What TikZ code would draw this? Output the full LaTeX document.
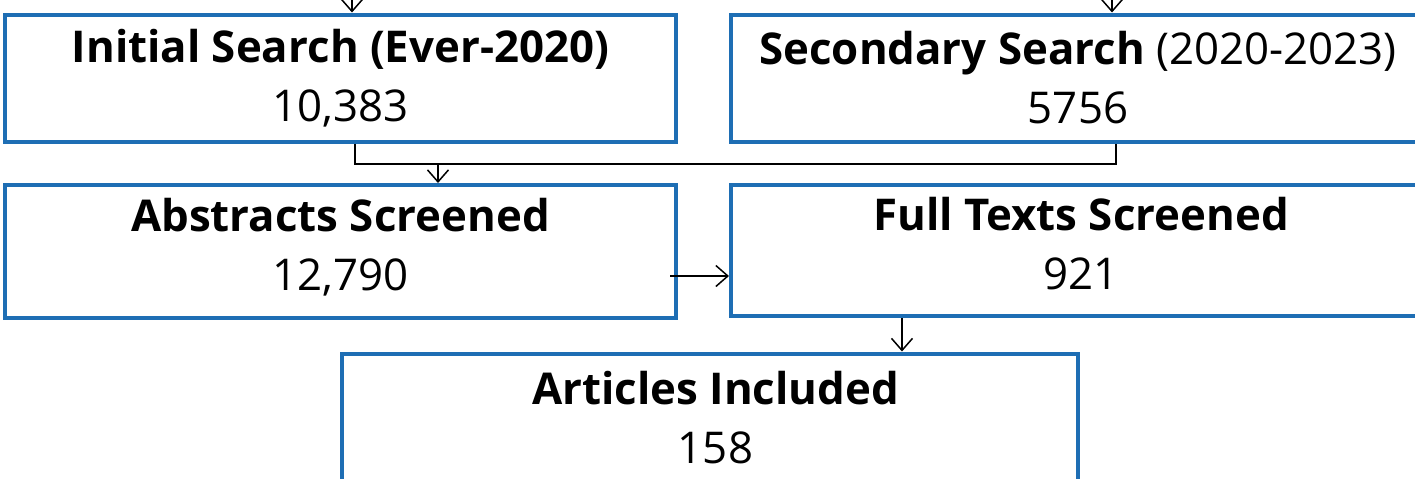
\documentclass[tikz,border=0pt]{standalone}
\usepackage{fontspec}
\setmainfont{Open Sans}
\usetikzlibrary{arrows.meta}
\definecolor{boxblue}{RGB}{30,110,180}
\begin{document}
\begin{tikzpicture}[x=0.5pt,y=-0.5pt,
  box/.style={draw=boxblue,line width=2pt,inner sep=0pt,align=center,font=\fontsize{21.9}{29.5}\selectfont},
  conn/.style={line width=0.75pt,draw=black},
  arr/.style={conn,-{Straight Barb[length=6pt,width=10.5pt]}}]
\useasboundingbox (0,0) rectangle (1415,478);
\clip (0,0) rectangle (1415,478);
\node[box,minimum width=335.5pt,minimum height=63.5pt] (b1) at (340.5,78) {\textbf{Initial Search (Ever-2020)}\\10,383};
\node[box,minimum width=347pt,minimum height=63.5pt] (b2) at (1078,78) {\textbf{Secondary Search} (2020-2023)\\5756};
\node[box,minimum width=335.5pt,minimum height=66.5pt,text depth=7pt] (b3) at (340.5,251.5) {\textbf{Abstracts Screened}\\12,790};
\node[box,minimum width=350pt,minimum height=65.5pt,text depth=7pt] (b4) at (1081,250.5) {\textbf{Full Texts Screened}\\921};
\node[box,minimum width=368pt,minimum height=64pt] (b5) at (709.5,417.5) {\hspace*{6pt}\textbf{Articles Included}\\\hspace*{6pt}158};
\coordinate (t1) at (352,-10);
\coordinate (t2) at (1112,-10);
\draw[arr] (t1) -- (t1 |- b1.north);
\draw[arr] (t2) -- (t2 |- b2.north);
\coordinate (m1) at (355,164);
\coordinate (m2) at (1116,164);
\coordinate (m3) at (438,164);
\draw[conn] (m1 |- b1.south) -- (m1) -- (m2) -- (m2 |- b2.south);
\draw[arr] (m3) -- (m3 |- b3.north);
\coordinate (s1) at (670,276);
\draw[arr] (s1) -- (s1 -| b4.west);
\coordinate (d1) at (902,316);
\draw[arr] (d1 |- b4.south) -- (d1 |- b5.north);
\end{tikzpicture}
\end{document}
